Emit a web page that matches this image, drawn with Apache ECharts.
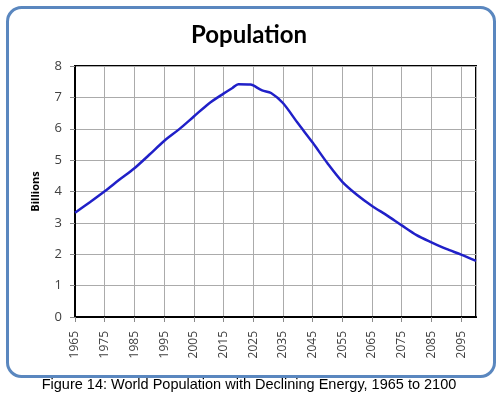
<!DOCTYPE html>
<html><head><meta charset="utf-8">
<script src="https://cdn.jsdelivr.net/npm/echarts@6/dist/echarts.min.js"></script>
<style>html,body{margin:0;padding:0;background:#fff}#c{width:498px;height:395px}</style>
</head><body><div id="c"></div>
<script>
const years = [1965,1970,1975,1980,1985,1990,1995,2000,2005,2010,2015,2018,2020,2024,2025,2028,2031,2035,2040,2045,2050,2055,2060,2065,2070,2075,2080,2085,2090,2095,2100];
const population = [3.32,3.66,4.01,4.38,4.74,5.17,5.61,5.98,6.39,6.80,7.12,7.30,7.42,7.41,7.38,7.22,7.14,6.82,6.18,5.56,4.90,4.31,3.89,3.54,3.24,2.92,2.61,2.38,2.17,1.99,1.79];
const yTicks = [0,1,2,3,4,5,6,7,8];

const chart = echarts.init(document.getElementById('c'), null, {renderer:'canvas'});
chart.setOption({
  animation:false,
  backgroundColor:'#fff',
  title:{text:'Population',left:'center',top:18,textStyle:{fontFamily:'Lato',fontWeight:'bold',fontSize:24,color:'#000'}},
  graphic:[
    {type:'rect',left:5,top:5,shape:{width:487,height:369,r:14},style:{fill:'none',stroke:'#5a87bf',lineWidth:3}},
    {type:'text',left:'center',top:377,style:{text:'Figure 14: World Population with Declining Energy, 1965 to 2100',font:'14.5px "Liberation Sans", Arial, sans-serif',fill:'#000'}}
  ],
  grid:{left:75,top:66,right:22,bottom:78,show:true,borderColor:'#000',borderWidth:2},
  xAxis:{type:'value',min:1965,max:2100,interval:10,
    axisLine:{show:true,lineStyle:{color:'#000',width:2}},
    axisTick:{show:true,length:5,lineStyle:{color:'#888'}},
    axisLabel:{rotate:90,showMaxLabel:false,margin:14,color:'#404040',fontFamily:'Open Sans',fontSize:12,formatter:v=>String(v)},
    splitLine:{show:true,lineStyle:{color:'#ababab',width:1}}},
  yAxis:{type:'value',min:0,max:8,interval:1,name:'Billions',nameLocation:'middle',nameGap:34,
    nameTextStyle:{fontFamily:'Open Sans',fontWeight:'bold',fontSize:11,color:'#000'},
    axisLine:{show:true,lineStyle:{color:'#000',width:2}},
    axisTick:{show:true,length:5,lineStyle:{color:'#888'}},
    axisLabel:{margin:13,color:'#404040',fontFamily:'Open Sans',fontSize:13,formatter:v=>yTicks.includes(v)?String(v):''},
    splitLine:{show:true,lineStyle:{color:'#ababab',width:1}}},
  series:[{type:'line',data:years.map((y,i)=>[y,population[i]]),smooth:0.3,showSymbol:false,
    lineStyle:{color:'#2020c8',width:2.5}}]
});
</script></body></html>
